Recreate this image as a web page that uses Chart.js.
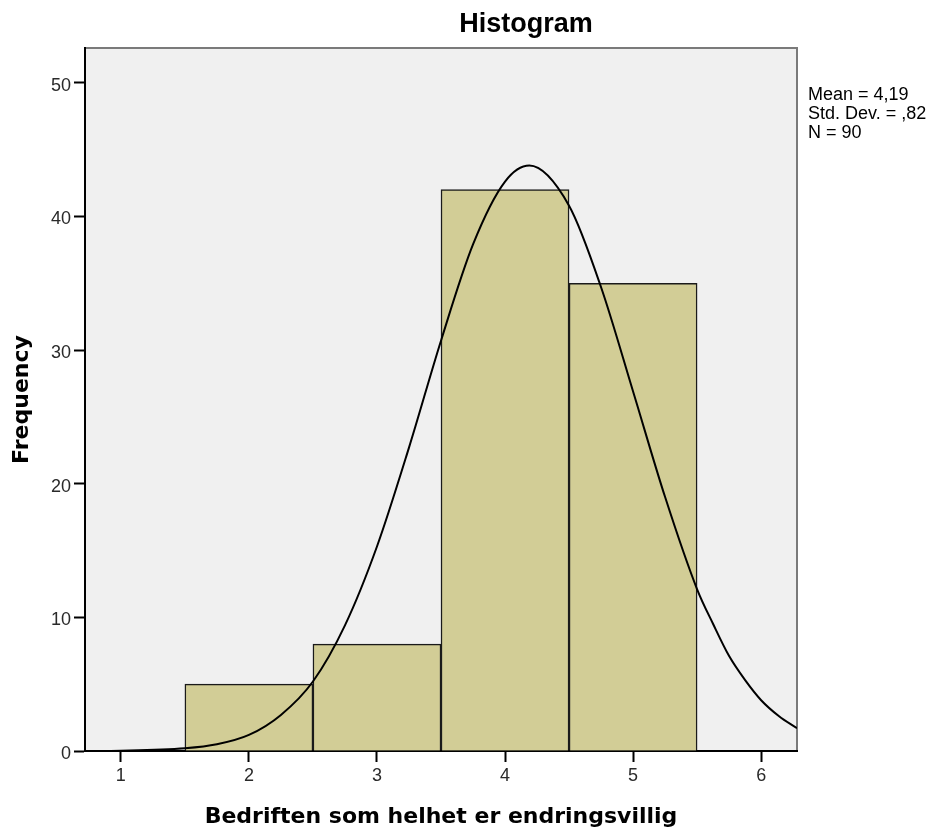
<!DOCTYPE html>
<html lang="no">
<head>
<meta charset="UTF-8">
<title>Histogram</title>
<script src="https://cdn.jsdelivr.net/npm/chart.js"></script>
<style>
  html, body { margin: 0; padding: 0; background: #fff; }
  #wrap { width: 936px; height: 830px; }
</style>
</head>
<body>
<div id="wrap"><canvas id="hist" width="936" height="830"></canvas></div>
<script>
// bin centres (width 1) and counts
const binCentres = [2, 3, 4, 5];
const binCounts = [5, 8, 42, 35];

// normal curve
const curveX = [0.72, 1, 1.5, 1.75, 2, 2.25, 2.5, 2.75, 3, 3.25, 3.5, 3.75, 4, 4.19, 4.5, 4.75, 5, 5.25, 5.5, 5.625, 5.75, 5.875, 6, 6.14, 6.28];
const curveY = [0, 0.02, 0.2, 0.5, 1.2, 2.7, 5.2, 9.4, 15.3, 22.7, 30.7, 37.9, 42.6, 43.8, 40.8, 34.7, 26.9, 19.0, 12.1, 9.5, 7.1, 5.3, 3.8, 2.6, 1.7];

const xTicks = [1, 2, 3, 4, 5, 6];
const yTicks = [0, 10, 20, 30, 40, 50];
const statLines = ['Mean = 4,19', 'Std. Dev. = ,82', 'N = 90'];

const frame = {
  id: 'frame',
  beforeDraw(chart) {
    const { ctx, chartArea: a } = chart;
    ctx.save();
    ctx.fillStyle = '#f0f0f0';
    ctx.fillRect(a.left, a.top, a.right - a.left, a.bottom - a.top);
    ctx.strokeStyle = '#7a7a7a';
    ctx.lineWidth = 2;
    ctx.beginPath();
    ctx.moveTo(a.left, a.top);
    ctx.lineTo(a.right, a.top);
    ctx.lineTo(a.right, a.bottom);
    ctx.stroke();
    ctx.restore();
  },
  afterDraw(chart) {
    const { ctx, chartArea: a } = chart;
    ctx.save();
    ctx.fillStyle = '#000';
    ctx.textAlign = 'center';
    ctx.textBaseline = 'middle';
    ctx.font = 'bold 27px "Liberation Sans", Arial, sans-serif';
    ctx.fillText('Histogram', 526, 25);
    ctx.textAlign = 'left';
    ctx.font = '18px "Liberation Sans", Arial, sans-serif';
    statLines.forEach((s, i) => ctx.fillText(s, a.right + 11, 95 + i * 19));
    ctx.restore();
  }
};

new Chart(document.getElementById('hist'), {
  type: 'bar',
  data: {
    datasets: [
      {
        type: 'line',
        data: curveX.map((x, i) => ({ x: x, y: curveY[i] })),
        borderColor: '#000',
        borderWidth: 2,
        pointRadius: 0,
        cubicInterpolationMode: 'monotone',
        fill: false,
        order: 0
      },
      {
        type: 'bar',
        data: binCentres.map((x, i) => ({ x: x, y: binCounts[i] })),
        backgroundColor: '#d2cd96',
        borderColor: '#1a1a1a',
        borderWidth: 1.5,
        barPercentage: 1,
        categoryPercentage: 1,
        order: 1
      }
    ]
  },
  options: {
    responsive: false,
    animation: false,
    layout: { padding: { left: 0, top: 48, right: 139, bottom: 0 } },
    plugins: { legend: { display: false }, tooltip: { enabled: false } },
    scales: {
      x: {
        type: 'linear',
        offset: false,
        min: 0.72,
        max: 6.28,
        afterBuildTicks: s => { s.ticks = xTicks.map(v => ({ value: v })); },
        afterFit: s => { s.height = 79; },
        grid: { offset: false, drawOnChartArea: false, drawTicks: true, tickLength: 11, tickWidth: 2, color: '#000' },
        border: { color: '#000', width: 2 },
        ticks: { color: '#2a2a2a', padding: 3, maxRotation: 0, font: { family: '"Liberation Sans", Arial, sans-serif', size: 18 } },
        title: {
          display: true,
          text: 'Bedriften som helhet er endringsvillig',
          color: '#000',
          padding: { top: 0, bottom: 0 },
          font: { family: '"DejaVu Sans", sans-serif', size: 22, weight: 'bold' }
        }
      },
      y: {
        min: 0,
        max: 52.6,
        afterBuildTicks: s => { s.ticks = yTicks.map(v => ({ value: v })); },
        afterFit: s => { s.width = 85; },
        grid: { drawOnChartArea: false, drawTicks: true, tickLength: 11, tickWidth: 2, color: '#000' },
        border: { color: '#000', width: 2 },
        ticks: { color: '#2a2a2a', padding: 3, labelOffset: 3, font: { family: '"Liberation Sans", Arial, sans-serif', size: 18 } },
        title: {
          display: true,
          text: 'Frequency',
          color: '#000',
          padding: { top: 9, bottom: 0 },
          font: { family: '"DejaVu Sans", sans-serif', size: 22, weight: 'bold' }
        }
      }
    }
  },
  plugins: [frame]
});
</script>
</body>
</html>
